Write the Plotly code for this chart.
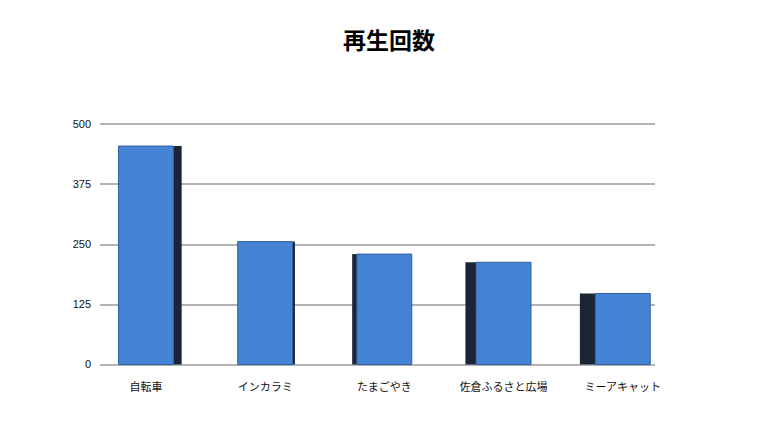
import plotly.graph_objects as go

# data
categories = ['自転車', 'インカラミ', 'たまごやき', '佐倉ふるさと広場', 'ミーアキャット']
plays = [455, 256, 230, 213, 148]
tick_vals = [0, 125, 250, 375, 500]

# dark side faces to fake the 3D look
side_offset = [0.23, 0.23, -0.27, -0.32, -0.36]
side_width = [0.07, 0.02, 0.04, 0.09, 0.13]

side = go.Bar(
    x=list(range(len(categories))),
    y=plays,
    offset=side_offset,
    width=side_width,
    marker=dict(color='#1a2638', line=dict(width=0)),
    hoverinfo='skip',
    showlegend=False,
)
front = go.Bar(
    x=list(range(len(categories))),
    y=plays,
    width=0.46,
    marker=dict(color='#4583d4', line=dict(color='#2f5f9e', width=1)),
    showlegend=False,
)

layout = go.Layout(
    width=762,
    height=436,
    paper_bgcolor='white',
    plot_bgcolor='white',
    barmode='overlay',
    margin=dict(l=92, r=115, t=115, b=78),
    title=dict(
        text='<b>再生回数</b>',
        x=0.5,
        xanchor='center',
        yref='container',
        y=0.925,
        yanchor='middle',
        font=dict(family='Noto Sans CJK JP', size=23, color='black'),
    ),
    xaxis=dict(
        tickmode='array',
        tickvals=list(range(len(categories))),
        ticktext=categories,
        range=[-0.385, 4.27],
        showgrid=False,
        zeroline=False,
        showline=False,
        ticks='',
        ticklabelstandoff=13,
        tickfont=dict(family='Noto Sans CJK JP', size=11, color='#111'),
    ),
    yaxis=dict(
        range=[-3, 503],
        tickvals=tick_vals,
        showgrid=True,
        gridcolor='#b4b4b4',
        gridwidth=2,
        zeroline=False,
        showline=False,
        ticks='',
        ticklabelstandoff=8,
        tickfont=dict(family='Liberation Sans', size=11, color='#111'),
    ),
)

fig = go.Figure(data=[side, front], layout=layout)
fig.write_html('out.html')
